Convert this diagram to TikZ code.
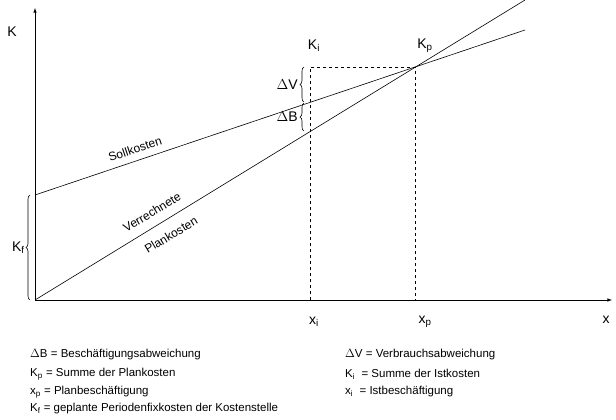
\documentclass[tikz,border=0pt]{standalone}
\usepackage{fontspec}
\setmainfont{Liberation Sans}
\usetikzlibrary{decorations.pathreplacing,calc}
\begin{document}
\begin{tikzpicture}[x=1pt,y=-1pt,
  lbl/.style={font=\fontsize{14}{16}\selectfont,inner sep=0pt},
  leg/.style={font=\fontsize{11.5}{13}\selectfont,anchor=west,inner sep=0pt},
  rl/.style={font=\fontsize{12}{14}\selectfont,inner sep=1pt},
  ln/.style={line width=0.6pt},
  dsh/.style={dashed,line width=0.6pt},
  brc/.style={decorate,decoration={brace,amplitude=4pt},line width=0.6pt}]
\useasboundingbox (0,0) rectangle (616,420);
\coordinate (O) at (35,300);
\coordinate (ytop) at (35,8);
\coordinate (xend) at (612,300);
\draw[ln,-latex] (O) -- (ytop);
\draw[ln,-latex] (O) -- (xend);
\coordinate (s0) at (35,195);
\coordinate (s1) at (525,30);
\coordinate (p1) at (525,0);
\draw[ln] (s0) -- (s1);
\draw[ln] (O) -- (p1);
\coordinate (xi) at (310,300);
\coordinate (xp) at (415,300);
\coordinate (kit) at (310,67);
\coordinate (kp) at (415,67);
\draw[dsh] (xi) -- (kit) -- (kp) -- (xp);
\draw[brc] (304,102) -- (304,67) node[midway,left=6pt,lbl]{$\Delta$V};
\draw[brc] (304,131) -- (304,103) node[midway,left=6pt,lbl]{$\Delta$B};
\draw[brc] (30,300) -- (30,195) node[midway,left=5pt,lbl]{K\textsubscript{f}};
\node[lbl] (K) at (12,32) {K};
\node[lbl] (Ki) at (314,46) {K\textsubscript{i}};
\node[lbl] (Kp) at (425,46) {K\textsubscript{p}};
\node[lbl] (xil) at (314,322) {x\textsubscript{i}};
\node[lbl] (xpl) at (425,322) {x\textsubscript{p}};
\node[lbl] (x) at (606,320) {x};
\node[rl,rotate=18.6] (soll) at (135,149) {Sollkosten};
\node[rl,rotate=31] (ver) at (152,212) {Verrechnete};
\node[rl,rotate=31] (plan) at (171,235) {Plankosten};
\node[leg] (l1) at (30,355) {$\Delta$B = Beschäftigungsabweichung};
\node[leg] (l2) at (30,374) {K\textsubscript{p} = Summe der Plankosten};
\node[leg] (l3) at (30,392) {x\textsubscript{p} = Planbeschäftigung};
\node[leg] (l4) at (30,409) {K\textsubscript{f} = geplante Periodenfixkosten der Kostenstelle};
\node[leg] (r1) at (345,355) {$\Delta$V = Verbrauchsabweichung};
\node[leg] (r2) at (345,374) {K\textsubscript{i}\ \ = Summe der Istkosten};
\node[leg] (r3) at (345,392) {x\textsubscript{i}\ \ = Istbeschäftigung};
\end{tikzpicture}
\end{document}
